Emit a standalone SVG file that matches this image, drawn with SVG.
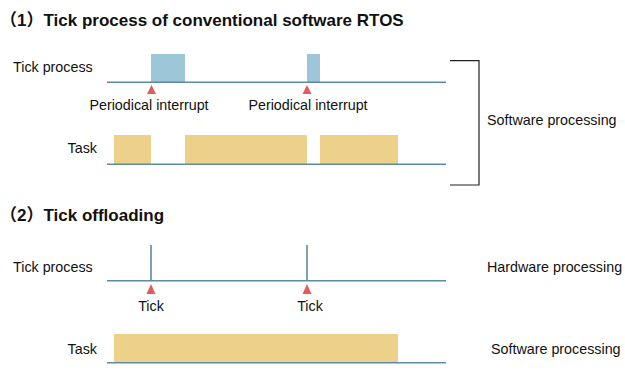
<svg xmlns="http://www.w3.org/2000/svg" width="625" height="372" viewBox="0 0 625 372">
<style>
text{font-family:"Liberation Sans","Noto Sans CJK SC",Arial,sans-serif;fill:#111;}
.t{font-size:17px;font-weight:bold;}
.l{font-size:14.3px;}
.axis{stroke:#5d8aa3;stroke-width:1.6;fill:none;}
.tick{fill:#9ec6d9;}
.task{fill:#edd089;}
.mark{fill:#e05d5d;}
.br{stroke:#222;stroke-width:1.2;fill:none;}
</style>
<rect width="625" height="372" fill="#fff"/>
<g id="title1"><text class="t" x="0" y="26">（1）Tick process of conventional software RTOS</text></g>
<g id="s1-tick">
<text class="l" x="13" y="72">Tick process</text>
<rect class="tick" x="151" y="54" width="34" height="28"/>
<rect class="tick" x="307" y="54" width="13" height="28"/>
</g>
<g id="s1-task">
<text class="l" x="97" y="153" text-anchor="end">Task</text>
<rect class="task" x="114" y="135" width="37" height="29"/>
<rect class="task" x="185" y="135" width="122" height="29"/>
<rect class="task" x="320" y="135" width="78" height="29"/>
</g>
<g id="s1-interrupts">
<polygon class="mark" points="151.5,85 147,94 156,94"/>
<polygon class="mark" points="307,85 302.5,94 311.5,94"/>
<text class="l" x="149" y="110" text-anchor="middle">Periodical interrupt</text>
<text class="l" x="308" y="110" text-anchor="middle">Periodical interrupt</text>
</g>
<g id="s1-label">
<text class="l" x="487" y="125">Software processing</text>
</g>
<g id="title2"><text class="t" x="0" y="221">（2）Tick offloading</text></g>
<g id="s2-tick">
<text class="l" x="13" y="272">Tick process</text>
<polygon class="mark" points="151,284 146.5,294 155.5,294"/>
<polygon class="mark" points="307,284 302.5,294 311.5,294"/>
<text class="l" x="151" y="311" text-anchor="middle">Tick</text>
<text class="l" x="310" y="311" text-anchor="middle">Tick</text>
<text class="l" x="487" y="272">Hardware processing</text>
</g>
<g id="s2-task">
<text class="l" x="97" y="354" text-anchor="end">Task</text>
<rect class="task" x="114" y="334" width="284" height="28.5"/>
<text class="l" x="491" y="354">Software processing</text>
</g>
<g id="connectors">
<line class="axis" x1="107" y1="82.3" x2="446" y2="82.3"/>
<line class="axis" x1="107" y1="164.3" x2="446" y2="164.3"/>
<line class="axis" x1="107" y1="280.7" x2="446" y2="280.7"/>
<line class="axis" x1="107" y1="362.8" x2="446" y2="362.8"/>
<line class="axis" x1="151" y1="245" x2="151" y2="280.7"/>
<line class="axis" x1="307" y1="245" x2="307" y2="280.7"/>
<polyline class="br" points="450,60.7 479,60.7 479,185 450,185"/>
</g>
</svg>
